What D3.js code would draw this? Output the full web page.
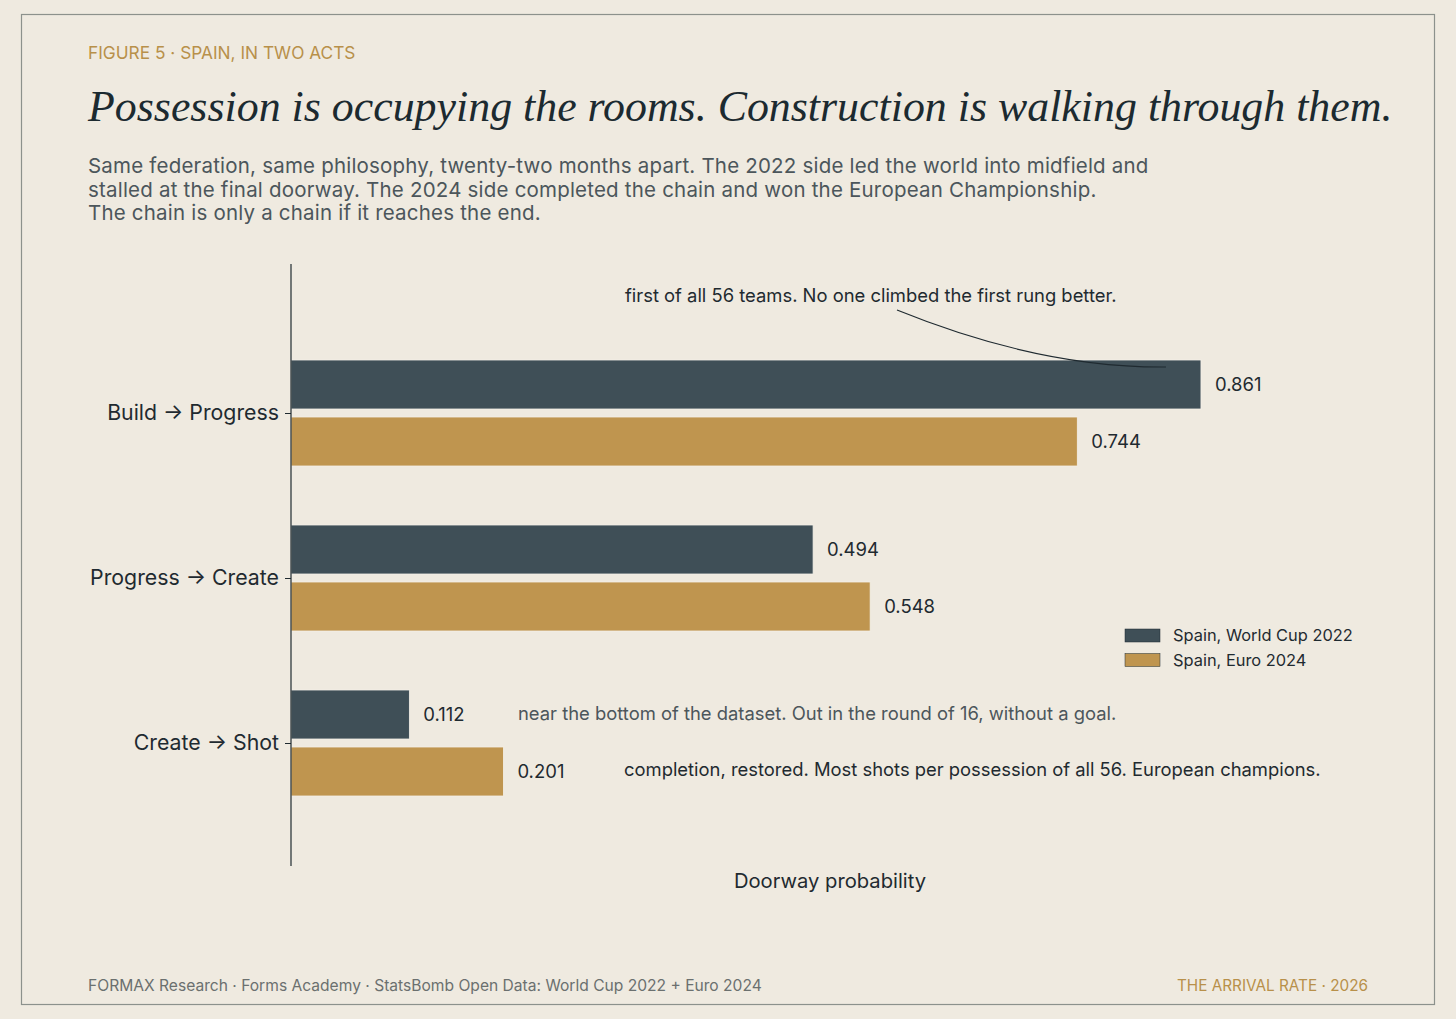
<!DOCTYPE html>
<html>
<head>
<meta charset="utf-8">
<script src="https://cdn.jsdelivr.net/npm/d3@7"></script>
<style>
  body { margin: 0; background: #efeae0; }
  svg { display: block; }
  .sans { font-family: Inter, "Noto Sans", sans-serif; }
</style>
</head>
<body>
<script>
var stages = ["Build \u2192 Progress", "Progress \u2192 Create", "Create \u2192 Shot"];
var series = ["Spain, World Cup 2022", "Spain, Euro 2024"];
var wc2022 = [0.861, 0.494, 0.112];
var euro2024 = [0.744, 0.548, 0.201];
var colors = ["#3f4f57", "#bf954f"];

var notes = [
  {text: "first of all 56 teams. No one climbed the first rung better.", dx: 625, dy: 302, color: "#1f2a30"},
  {text: "near the bottom of the dataset. Out in the round of 16, without a goal.", dx: 518, dy: 720, color: "#4c565b"},
  {text: "completion, restored. Most shots per possession of all 56. European champions.", dx: 624, dy: 776, color: "#1f2a30"}
];

var w = 1456, h = 1019;
var svg = d3.select("body").append("svg")
  .attr("width", w).attr("height", h);

svg.append("rect")
  .attr("x", 21.5).attr("y", 14.5)
  .attr("width", 1413).attr("height", 990)
  .attr("fill", "#efeae0")
  .attr("stroke", "#8c918c").attr("stroke-width", 1.2);

// header
svg.append("text").attr("class", "sans")
  .attr("x", 88).attr("y", 59)
  .attr("font-size", 17.3).attr("fill", "#b8904a")
  .text("FIGURE 5 \u00b7 SPAIN, IN TWO ACTS");

var title = svg.append("text")
  .attr("x", 88).attr("y", 121)
  .attr("font-family", "'Liberation Serif', serif")
  .attr("font-style", "italic")
  .attr("font-size", 47).attr("fill", "#1c2a30")
  .text("Possession is occupying the rooms. Construction is walking through them.");
// fit title to the width it has in the reference
var tl = title.node().getComputedTextLength();
title.attr("font-size", Math.min(52, 47 * 1305 / tl));

var sub = [
  "Same federation, same philosophy, twenty-two months apart. The 2022 side led the world into midfield and",
  "stalled at the final doorway. The 2024 side completed the chain and won the European Championship.",
  "The chain is only a chain if it reaches the end."
];
svg.append("g").selectAll("text").data(sub).enter().append("text")
  .attr("class", "sans")
  .attr("x", 88).attr("y", function(d, i) { return 173 + i * 23.5; })
  .attr("font-size", 20.5).attr("letter-spacing", 0.2).attr("fill", "#4c565b")
  .text(function(d) { return d; });

// scales
var x = d3.scaleLinear().domain([0, 1.02]).range([291, 1369]);
var y = d3.scalePoint().domain(stages).range([413, 743]);
var barH = 49, gap = 4;

var data = [];
stages.forEach(function(st, i) {
  data.push({stage: st, s: 0, v: wc2022[i]});
  data.push({stage: st, s: 1, v: euro2024[i]});
});
function barY(d) { return d.s === 0 ? y(d.stage) - gap - barH : y(d.stage) + gap; }

svg.append("g").selectAll("rect").data(data).enter().append("rect")
  .attr("x", x(0))
  .attr("y", barY)
  .attr("width", function(d) { return x(d.v) - x(0); })
  .attr("height", barH)
  .attr("fill", function(d) { return colors[d.s]; })
  .attr("stroke", "#f4f0e8").attr("stroke-width", 0.8);

svg.append("g").selectAll("text").data(data).enter().append("text")
  .attr("class", "sans")
  .attr("x", function(d) { return x(d.v) + 14; })
  .attr("y", function(d) { return barY(d) + barH / 2 + 6.5; })
  .attr("font-size", 18.5).attr("fill", "#1f2a30")
  .text(function(d) { return d3.format(".3f")(d.v); });

// y axis
var yAxis = d3.axisLeft(y).tickSize(6).tickPadding(6);
var ya = svg.append("g")
  .attr("transform", "translate(" + x(0) + ",0)")
  .call(yAxis);
ya.select(".domain").remove();
ya.selectAll(".tick line").attr("stroke", "#1f2a30");
ya.selectAll(".tick text")
  .attr("font-size", 21.3).attr("fill", "#1f2a30")
  .attr("font-family", "Inter, 'Noto Sans', sans-serif");
svg.append("line")
  .attr("x1", x(0)).attr("x2", x(0))
  .attr("y1", 264).attr("y2", 866)
  .attr("stroke", "#1f2a30").attr("stroke-width", 1.2);

svg.append("text").attr("class", "sans")
  .attr("x", (x.range()[0] + x.range()[1]) / 2).attr("y", 888)
  .attr("text-anchor", "middle")
  .attr("font-size", 20.2).attr("fill", "#1f2a30")
  .text("Doorway probability");

// annotations
svg.append("g").selectAll("text").data(notes).enter().append("text")
  .attr("class", "sans")
  .attr("x", function(d) { return d.dx; })
  .attr("y", function(d) { return d.dy; })
  .attr("font-size", 18.4)
  .attr("fill", function(d) { return d.color; })
  .text(function(d) { return d.text; });

var endX = x(wc2022[0]) - 35, endY = y(stages[0]) - gap - barH + 7;
svg.append("path")
  .attr("d", "M897,310 Q1040," + (endY + 1) + " " + endX + "," + endY)
  .attr("fill", "none").attr("stroke", "#1f2a30").attr("stroke-width", 1.2);

// legend
var lg = svg.append("g").attr("transform", "translate(1125,629)");
series.forEach(function(s, i) {
  lg.append("rect").attr("x", 0).attr("y", i * 24.5)
    .attr("width", 35).attr("height", 13)
    .attr("fill", colors[i]).attr("stroke", "#1f2a30").attr("stroke-width", 0.5);
  lg.append("text").attr("class", "sans")
    .attr("x", 48).attr("y", i * 24.5 + 12)
    .attr("font-size", 16.4).attr("fill", "#1f2a30")
    .text(s);
});

// footer
svg.append("text").attr("class", "sans")
  .attr("x", 88).attr("y", 991)
  .attr("font-size", 15.6).attr("fill", "#6b706f")
  .text("FORMAX Research \u00b7 Forms Academy \u00b7 StatsBomb Open Data: World Cup 2022 + Euro 2024");
svg.append("text").attr("class", "sans")
  .attr("x", 1368).attr("y", 991)
  .attr("text-anchor", "end")
  .attr("font-size", 15.3).attr("fill", "#b8904a")
  .text("THE ARRIVAL RATE \u00b7 2026");
</script>
</body>
</html>
